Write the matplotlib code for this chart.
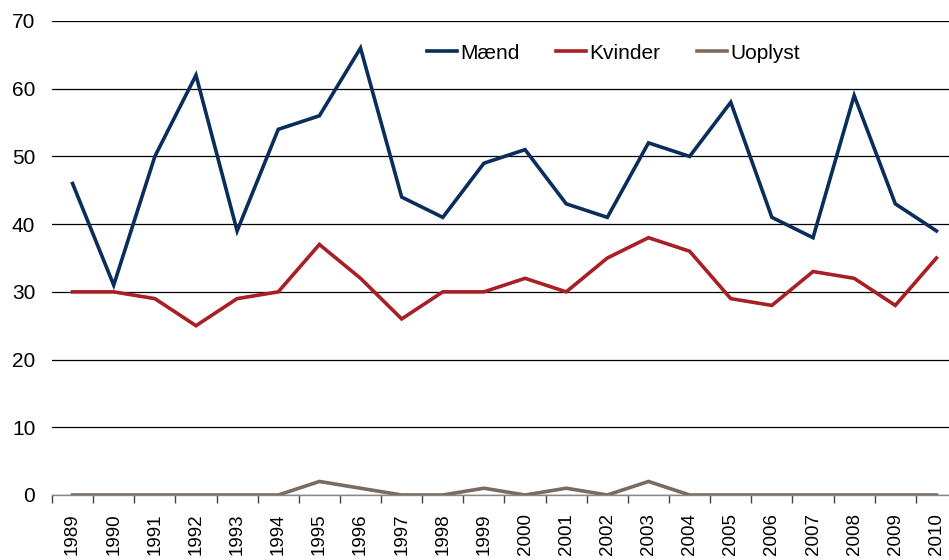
import matplotlib
matplotlib.use("Agg")
import matplotlib.pyplot as plt
import numpy as np

# data
years = [str(y) for y in range(1989, 2011)]
maend = [46, 31, 50, 62, 39, 54, 56, 66, 44, 41, 49, 51, 43, 41, 52, 50, 58, 41, 38, 59, 43, 39]
kvinder = [30, 30, 29, 25, 29, 30, 37, 32, 26, 30, 30, 32, 30, 35, 38, 36, 29, 28, 33, 32, 28, 35]
uoplyst = [0, 0, 0, 0, 0, 0, 2, 1, 0, 0, 1, 0, 1, 0, 2, 0, 0, 0, 0, 0, 0, 0]
labels = ["Mænd", "Kvinder", "Uoplyst"]
colors = ["#0B2D5B", "#A81F26", "#7A6A60"]

plt.rcParams['font.family'] = ['Liberation Sans', 'DejaVu Sans']

fig = plt.figure(figsize=(9.49, 5.6), dpi=100)
# axes runs a little past the right edge of the figure, like the reference
ax = fig.add_axes([52 / 949, 65 / 560, 905 / 949, 474 / 560])

x = np.arange(len(years))
for vals, lab, col in zip([maend, kvinder, uoplyst], labels, colors):
    ax.plot(x, vals, color=col, lw=2.6, label=lab, solid_joinstyle='miter')

ax.set_xlim(-0.5, len(years) - 0.5)
ax.set_ylim(0, 70)
ax.set_yticks(range(0, 71, 10))
ax.grid(axis='y', color='black', lw=0.9)
ax.set_axisbelow(True)

for side in ['top', 'right', 'left']:
    ax.spines[side].set_visible(False)
ax.spines['bottom'].set_color('#888888')
ax.spines['bottom'].set_linewidth(1.0)

# category labels centred, tick marks between categories
ax.set_xticks(x)
ax.set_xticklabels(years, rotation=90, fontsize=13.5)
ax.tick_params(axis='x', which='major', length=0, pad=13)
ax.set_xticks(np.arange(-0.5, len(years), 1), minor=True)
ax.tick_params(axis='x', which='minor', length=6, width=1, color='#444444', direction='out')
ax.tick_params(axis='y', length=0, labelsize=15, pad=12)

ax.legend(loc='center', bbox_to_anchor=(0.62, 0.932), ncol=3, frameon=False,
          fontsize=15, handlelength=1.45, handletextpad=0.15, columnspacing=1.75)

fig.savefig("out.png", dpi=100)
